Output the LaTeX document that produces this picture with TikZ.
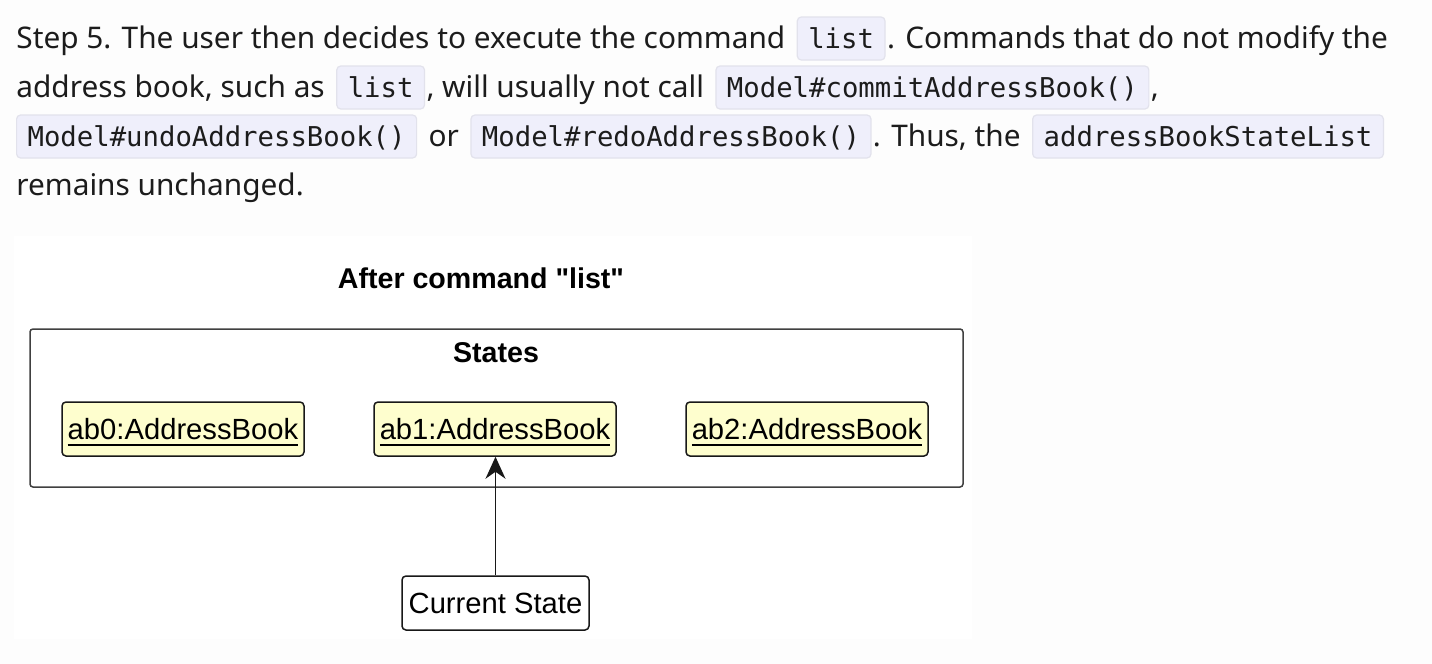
\documentclass[tikz,border=0pt]{standalone}
\usepackage{fontspec}
\setmainfont{Noto Sans}
\setmonofont{DejaVu Sans Mono}
\newfontfamily\umlfont{Liberation Sans}
\usetikzlibrary{positioning}
\usetikzlibrary{arrows.meta}
\definecolor{pagebg}{RGB}{253,253,253}
\definecolor{codebg}{RGB}{239,239,251}
\definecolor{codeline}{RGB}{226,226,236}
\definecolor{inktext}{RGB}{28,28,28}
\definecolor{abfill}{RGB}{254,254,206}
\definecolor{abline}{RGB}{24,24,24}
\definecolor{pkgline}{RGB}{64,64,64}
\tikzstyle{prose}=[inner sep=0pt, text=inktext, font=\fontsize{14.9pt}{18pt}\selectfont]
\tikzstyle{codebox}=[fill=codebg, draw=codeline, line width=0.6pt, rounded corners=2pt, inner xsep=5.5pt, inner ysep=0pt, text height=15.75pt, text depth=5.75pt, text=inktext, font=\ttfamily\fontsize{13.65pt}{16pt}\selectfont]
\tikzstyle{umltitle}=[inner sep=0pt, text=black, font=\umlfont\bfseries\fontsize{14.3pt}{17pt}\selectfont]
\tikzstyle{pkgbox}=[draw=pkgline, line width=0.75pt, rounded corners=1.5pt, minimum width=466.5pt, minimum height=79pt]
\tikzstyle{abbox}=[draw=abline, fill=abfill, line width=0.75pt, rounded corners=2pt, inner sep=0pt, minimum width=121pt, text height=18.5pt, text depth=8.5pt, font=\umlfont\fontsize{14.6pt}{17pt}\selectfont]
\tikzstyle{curbox}=[abbox, fill=white, minimum width=93.5pt]
\tikzstyle{pointer}=[draw=abline, line width=0.75pt, -{Stealth[length=11pt, width=10pt, inset=3.5pt]}]
\newcommand\ulabel[1]{\vtop{\hbox{#1}\kern2.2pt\hrule height 1pt}}

\begin{document}
\begin{tikzpicture}[x=0.5pt, y=-0.5pt]

    \fill[pagebg] (0,0) rectangle (1432,664);
    \useasboundingbox (0,0) rectangle (1432,664);

% Text
	\def\gap{5.5pt};
	\def\tight{0.5pt};

  %line 1
    \node[prose, anchor=base west] (l1a) at (16,48.5) {Step 5. The user then decides to execute the command};
    \node[codebox, base right=\gap of l1a] (l1b) {list};
    \node[prose, base right=\tight of l1b] (l1c) {. Commands that do not modify the};
  %line 2
    \node[prose, anchor=base west] (l2a) at (16,97.5) {address book, such as};
    \node[codebox, base right=\gap of l2a] (l2b) {list};
    \node[prose, base right=\tight of l2b] (l2c) {, will usually not call};
    \node[codebox, base right=\gap of l2c] (l2d) {Model\#commitAddressBook()};
    \node[prose, base right=\tight of l2d] (l2e) {,};
  %line 3
    \node[codebox, anchor=base west] (l3a) at (16,146.5) {Model\#undoAddressBook()};
    \node[prose, base right=\gap of l3a] (l3b) {or};
    \node[codebox, base right=\gap of l3b] (l3c) {Model\#redoAddressBook()};
    \node[prose, base right=\tight of l3c] (l3d) {. Thus, the};
    \node[codebox, base right=\gap of l3d] (l3e) {addressBookStateList};
  %line 4
    \node[prose, anchor=base west] (l4a) at (16,195.5) {remains unchanged.};

% Diagram
    \fill[white] (14,236) rectangle (972,639);

    \node[umltitle] (title) at (481,278) {After command "list"};

    \node[pkgbox] (states) at (496.5,408) {};
    \node[umltitle, anchor=base] (statesname) at (496,362) {States};

	\def\dx{312};
    \foreach \i in {0,1,2}
        \node[abbox] (ab\i) at (183+\i*\dx, 429) {\ulabel{ab\i:AddressBook}};

    \node[curbox] (cur) at (495.5,603) {Current State};

 % Edges
    \path[pointer] (cur.north) -- (cur.north |- ab1.south);

\end{tikzpicture}
\end{document}
